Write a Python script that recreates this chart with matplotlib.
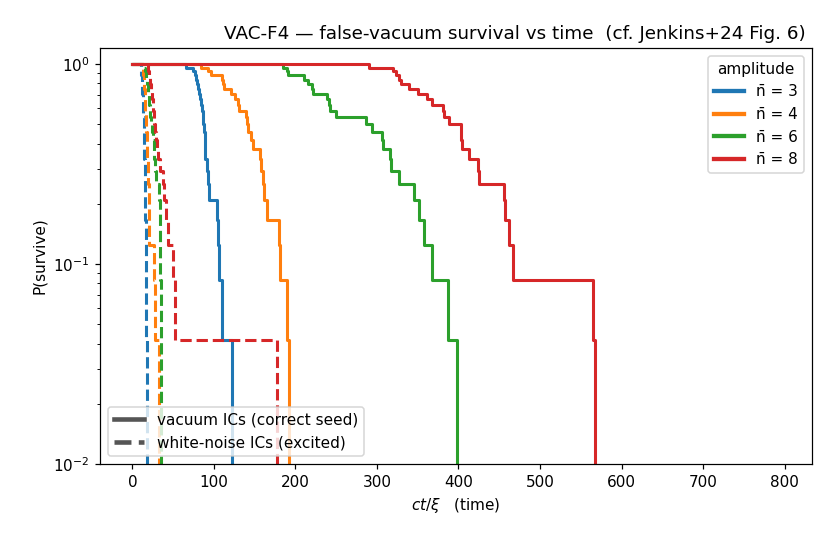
import numpy as np
import matplotlib
matplotlib.use('Agg')
import matplotlib.pyplot as plt
from matplotlib.lines import Line2D

# ---- data: decay times (ct/xi) of the 24 runs per amplitude ----
N_RUNS = 24
T_END = 794          # end of the time grid

amplitudes = [3, 4, 6, 8]
colors = ['tab:blue', 'tab:orange', 'tab:green', 'tab:red']

# vacuum ICs (correct seed)
vac_n3 = [66, 74, 77, 78, 79.5, 80.5, 82, 83, 84, 85, 86.5, 87, 87.5, 88.5, 89, 89.5,
          91, 92.5, 94.5, 103.5, 105, 106.5, 110.5, 122.3]
vac_n4 = [84.3, 92.4, 96, 110, 110.8, 112.8, 121, 126.4, 130, 131.3, 139.5, 140.5,
          141.5, 146, 148, 156, 158, 160, 162, 164.8, 179.5, 181.5, 189.8, 192.6]
vac_n6 = [184.4, 190, 190.6, 210, 216, 220, 221, 239, 241, 242, 250, 286.5, 293.5,
          306, 307, 316.5, 317.5, 327.5, 346, 351, 358, 367.5, 387, 398]
vac_n8 = [290.8, 319.4, 323.5, 327.6, 329.7, 339.9, 350, 361.6, 367.7, 381, 382, 388,
          402.5, 403.3, 404, 413.5, 424, 425, 456, 457.5, 462.6, 466.6, 564.8, 568]

# white-noise ICs (excited)
wn_n3 = [10.5, 10.8, 11.0, 11.3, 11.6, 11.9, 12.2, 12.5, 12.9, 13.2, 13.5, 13.9,
         14.1, 14.3, 14.5, 14.7, 14.9, 15.1, 15.6, 16.0, 16.3, 16.6, 16.9, 17.6]
wn_n4 = [12.7, 13.1, 13.5, 13.9, 14.3, 14.7, 15.0, 15.4, 15.7, 16.1, 16.4, 16.8,
         17.1, 17.4, 17.7, 18.0, 18.8, 19.6, 20.2, 20.9, 21.0, 26.1, 27.8, 32.3]
wn_n6 = [14.7, 15.5, 16.3, 17.1, 18.0, 18.8, 19.5, 20.2, 20.8, 21.5, 22.2, 22.9,
         23.9, 25.0, 26.0, 27.0, 28.0, 29.0, 33.1, 33.6, 34.0, 34.4, 34.8, 35.2]
wn_n8 = [18.8, 19.6, 20.4, 21.2, 22.0, 22.9, 23.6, 24.3, 25.0, 25.6, 26.3, 27.0,
         28.0, 29.0, 30.0, 31.0, 34.0, 37.2, 39.0, 41.3, 43.3, 50.3, 52.0, 177.8]

vac = [vac_n3, vac_n4, vac_n6, vac_n8]
wn = [wn_n3, wn_n4, wn_n6, wn_n8]


def survival(times):
    # empirical survival fraction, as a step curve from t=0 to T_END
    t = np.sort(np.array(times, dtype=float))
    n = len(t)
    tt = np.concatenate([[0.0], t, [T_END]])
    ss = np.concatenate([[1.0], (n - np.arange(1, n + 1)) / n, [0.0]])
    return tt, ss


fig, ax = plt.subplots(figsize=(832 / 110, 546 / 110), dpi=110)

for i, n in enumerate(amplitudes):
    t, s = survival(vac[i])
    ax.step(t, s, where='post', color=colors[i], lw=2)
    t, s = survival(wn[i])
    ax.step(t, s, where='post', color=colors[i], lw=2, ls='--')

ax.set_yscale('log')
ax.set_ylim(1e-2, 1.2)
ax.set_xlabel(r'$ct/\xi$   (time)')
ax.set_ylabel('P(survive)')
ax.set_title('VAC-F4 \u2014 false-vacuum survival vs time  (cf. Jenkins+24 Fig. 6) ', loc='right')

amp_handles = [Line2D([], [], color=colors[i], lw=2.8) for i in range(len(amplitudes))]
amp_labels = ['n\u0304 = %d' % n for n in amplitudes]
leg1 = ax.legend(amp_handles, amp_labels, title='amplitude', loc='upper right')
ax.add_artist(leg1)

style_handles = [Line2D([], [], color='#555555', lw=3),
                 Line2D([], [], color='#555555', lw=3, ls='--')]
ax.legend(style_handles, ['vacuum ICs (correct seed)', 'white-noise ICs (excited)'],
          loc='lower left')

fig.subplots_adjust(left=0.1202, right=0.976, top=0.912, bottom=0.150)
fig.savefig('out.png', dpi=110)
